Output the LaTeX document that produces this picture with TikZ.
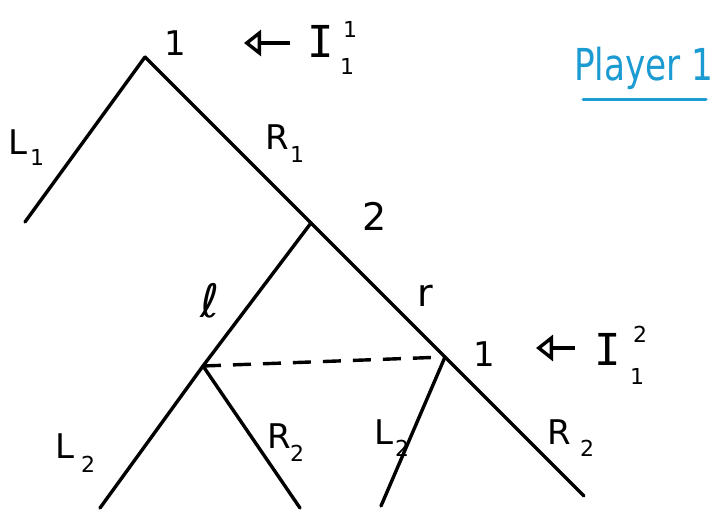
\documentclass[tikz,border=0pt]{standalone}
\usepackage{fontspec}
\setmainfont{DejaVu Sans}
\newfontfamily\eyefont{DejaVu Sans Mono}
\usetikzlibrary{arrows.meta}
\definecolor{pblue}{RGB}{27,155,209}
\begin{document}
\begin{tikzpicture}[x=1pt,y=-1pt,
  edge/.style={line width=3.4pt, line cap=round},
  info/.style={line width=3.4pt, dash pattern=on 18pt off 12pt},
  ptr/.style={line width=3.4pt, -{Triangle[open, length=17pt, width=26pt]}},
  big/.style={inner sep=0pt, font=\fontsize{34}{34}\selectfont},
  eye/.style={inner sep=0pt, font=\eyefont\fontsize{44}{44}\selectfont},
  idx/.style={inner sep=0pt, font=\fontsize{22}{22}\selectfont}
]
\useasboundingbox (0,0) rectangle (715,513);
% tree vertices
\coordinate (root) at (145,57);
\coordinate (leafL1) at (25,222);
\coordinate (two) at (311,223);
\coordinate (left) at (203,366);
\coordinate (right) at (445,357);
\coordinate (leafA) at (100,508);
\coordinate (leafB) at (300,508);
\coordinate (leafC) at (381,506);
\coordinate (leafD) at (584,496);
% edges
\draw[edge] (root) -- (leafL1);
\draw[edge] (root) -- (two);
\draw[edge] (two) -- (right);
\draw[edge] (right) -- (leafD);
\draw[edge] (two) -- (left);
\draw[edge] (left) -- (leafA);
\draw[edge] (left) -- (leafB);
\draw[edge] (right) -- (leafC);
\draw[info] (left) -- (right);
% player labels
\node[big] (p1) at (175,43) {1};
\node[big, font=\fontsize{38}{38}\selectfont] (p2) at (375,216) {2};
\node[big] (p3) at (484,354) {1};
% information-set pointers
\coordinate (a1t) at (290,43);
\coordinate (a1h) at (244,43);
\draw[ptr] (a1t) -- (a1h);
\node[eye] (I1) at (321,41) {I};
\node[idx] (I1sup) at (350,29) {1};
\node[idx] (I1sub) at (347,66) {1};
\coordinate (a2t) at (575,348);
\coordinate (a2h) at (536,348);
\draw[ptr] (a2t) -- (a2h);
\node[eye] (I2) at (608,349) {I};
\node[idx] (I2sup) at (640,334) {2};
\node[idx] (I2sub) at (637,376) {1};
% action labels
\node[big] (L1) at (18,142) {L};
\node[idx] (L1s) at (37,157) {1};
\node[big] (R1) at (277,137) {R};
\node[idx] (R1s) at (297,154) {1};
\node[big, font=\fontsize{46}{46}\selectfont] (al) at (210,301) {ℓ};
\node[big, font=\fontsize{38}{38}\selectfont] (ar) at (425,296) {r};
\node[big] (L2a) at (65,446) {L};
\node[idx] (L2as) at (88,464) {2};
\node[big] (R2a) at (279,436) {R};
\node[idx] (R2as) at (297,453) {2};
\node[big] (L2b) at (384,432) {L};
\node[idx] (L2bs) at (402,448) {2};
\node[big] (R2b) at (559,432) {R};
\node[idx] (R2bs) at (587,448) {2};
% title
\node[inner sep=0pt, text=pblue, font=\fontsize{44}{44}\selectfont] (title) at (644,68) {\scalebox{0.78}[1]{Player 1}};
\coordinate (ul1) at (583,100);
\coordinate (ul2) at (706,100);
\draw[pblue, line width=3pt, line cap=round] (ul1) -- (ul2);
\end{tikzpicture}
\end{document}
